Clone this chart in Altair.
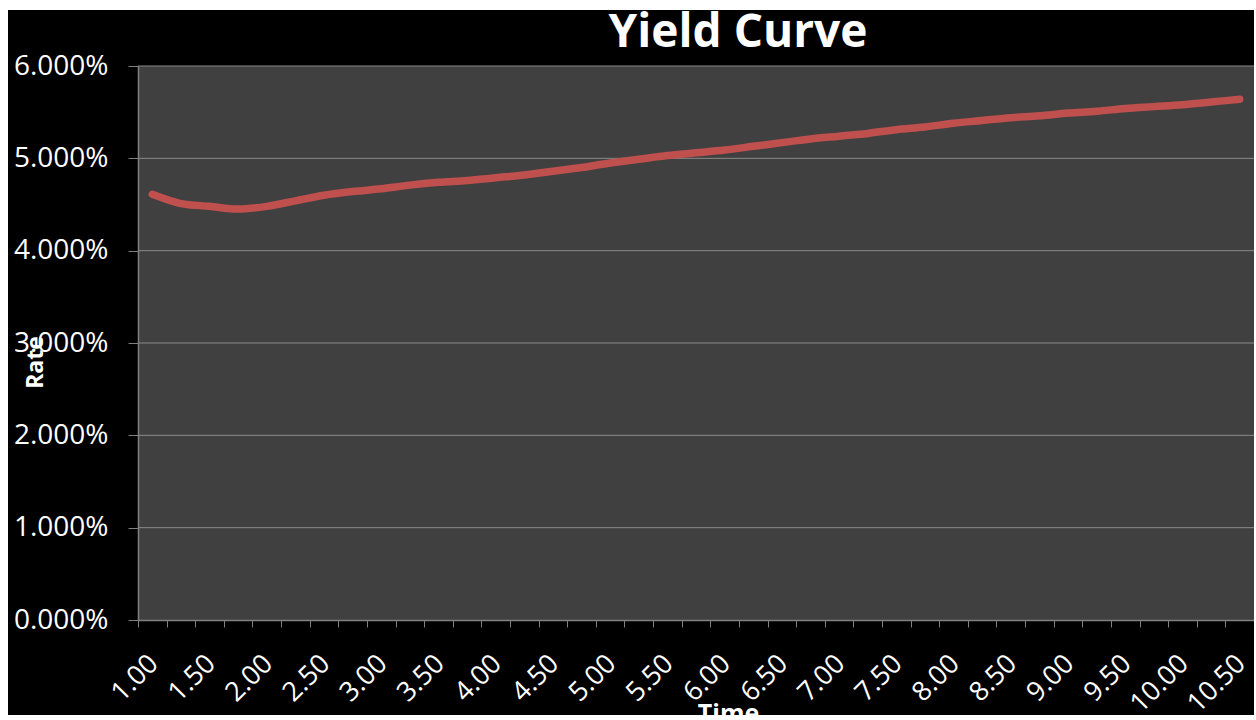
import altair as alt
import pandas as pd

# ---- data ----
times = ["1.00", "1.25", "1.50", "1.75", "2.00", "2.25", "2.50", "2.75",
         "3.00", "3.25", "3.50", "3.75", "4.00", "4.25", "4.50", "4.75",
         "5.00", "5.25", "5.50", "5.75", "6.00", "6.25", "6.50", "6.75",
         "7.00", "7.25", "7.50", "7.75", "8.00", "8.25", "8.50", "8.75",
         "9.00", "9.25", "9.50", "9.75", "10.00", "10.25", "10.50"]
rates = [0.0461, 0.0451, 0.0448, 0.0445, 0.0448, 0.0454, 0.0460, 0.0464,
         0.0467, 0.0471, 0.0474, 0.0476, 0.0479, 0.0482, 0.0486, 0.0490,
         0.0495, 0.0499, 0.0503, 0.0506, 0.0509, 0.0513, 0.0517, 0.0521,
         0.0524, 0.0527, 0.0531, 0.0534, 0.0538, 0.0541, 0.0544, 0.0546,
         0.0549, 0.0551, 0.0554, 0.0556, 0.0558, 0.0561, 0.0564]
y_ticks = [0.0, 0.01, 0.02, 0.03, 0.04, 0.05, 0.06]
grid_vals = [0.01, 0.02, 0.03, 0.04, 0.05, 0.06]
title_text = ["Yield Curve"]

W = 1116
H = 554
FONT = "Open Sans"

df = pd.DataFrame({"Time": times, "Rate": rates})
grid_df = pd.DataFrame({"Rate": grid_vals})
one = pd.DataFrame({"a": [0]})
title_df = pd.DataFrame({"t": title_text})

yscale = alt.Scale(domain=[0, 0.06], nice=False, zero=True)
yaxis = alt.Axis(
    format=".3%", values=y_ticks,
    title="Rate", titleFont=FONT, titleFontWeight="bold",
    titleFontSize=23, titleColor="#ffffff",
    titleAngle=-90, titleX=-103, titleY=296,
    titleAlign="center", titleBaseline="middle",
    labelFont=FONT, labelFontSize=28, labelColor="#ffffff",
    labelPadding=20, tickSize=10, tickColor="#808080",
    domainColor="#808080", domainWidth=1.5, grid=False, zindex=1,
)

black_bg = alt.Chart(one).mark_rect(color="#000000").encode(
    x=alt.value(-130), x2=alt.value(W + 10),
    y=alt.value(-56), y2=alt.value(H + 120),
)
plot_bg = alt.Chart(one).mark_rect(color="#404040").encode(
    x=alt.value(0), x2=alt.value(W),
    y=alt.value(0), y2=alt.value(H),
)
grid = alt.Chart(grid_df).mark_rule(color="#8a8a8a", strokeWidth=1).encode(
    y=alt.Y("Rate:Q", scale=yscale, axis=yaxis),
    x=alt.value(0), x2=alt.value(W),
)

line = alt.Chart(df).mark_line(
    color="#c0504d", strokeWidth=7.5, strokeCap="round", strokeJoin="round",
    interpolate="monotone",
).encode(
    x=alt.X(
        "Time:O", sort=times,
        scale=alt.Scale(paddingInner=0, paddingOuter=0),
        axis=alt.Axis(
            title="Time", titleFont=FONT, titleFontWeight="bold",
            titleFontSize=25, titleColor="#ffffff",
            titleX=590, titleY=81, titleAlign="center", titleBaseline="top",
            labelAngle=-45, labelAlign="right", labelBaseline="top",
            labelFont=FONT, labelFontSize=27, labelColor="#ffffff",
            labelPadding=23, labelOffset=-8, labelOverlap=False,
            labelExpr="(round(toNumber(datum.value) * 4) % 2 == 0) ? datum.label : ''",
            tickBand="extent", tickSize=7, tickColor="#808080",
            domainColor="#808080", domainWidth=1.5, grid=False, zindex=1,
        ),
    ),
    y=alt.Y("Rate:Q", scale=yscale, axis=yaxis),
)

title = alt.Chart(title_df).mark_text(
    font=FONT, fontWeight="bold", fontSize=46, color="#ffffff",
    align="center", baseline="alphabetic",
).encode(text="t:N", x=alt.value(600), y=alt.value(-19))

chart = alt.layer(black_bg, plot_bg, grid, line, title).properties(
    width=W, height=H,
    padding={"left": 138, "top": 66, "right": 0, "bottom": 95},
    autosize=alt.AutoSizeParams(type="none"),
    background="#ffffff",
).configure_view(stroke=None)

chart.save("out.html", embed_options={"renderer": "svg", "actions": False})
